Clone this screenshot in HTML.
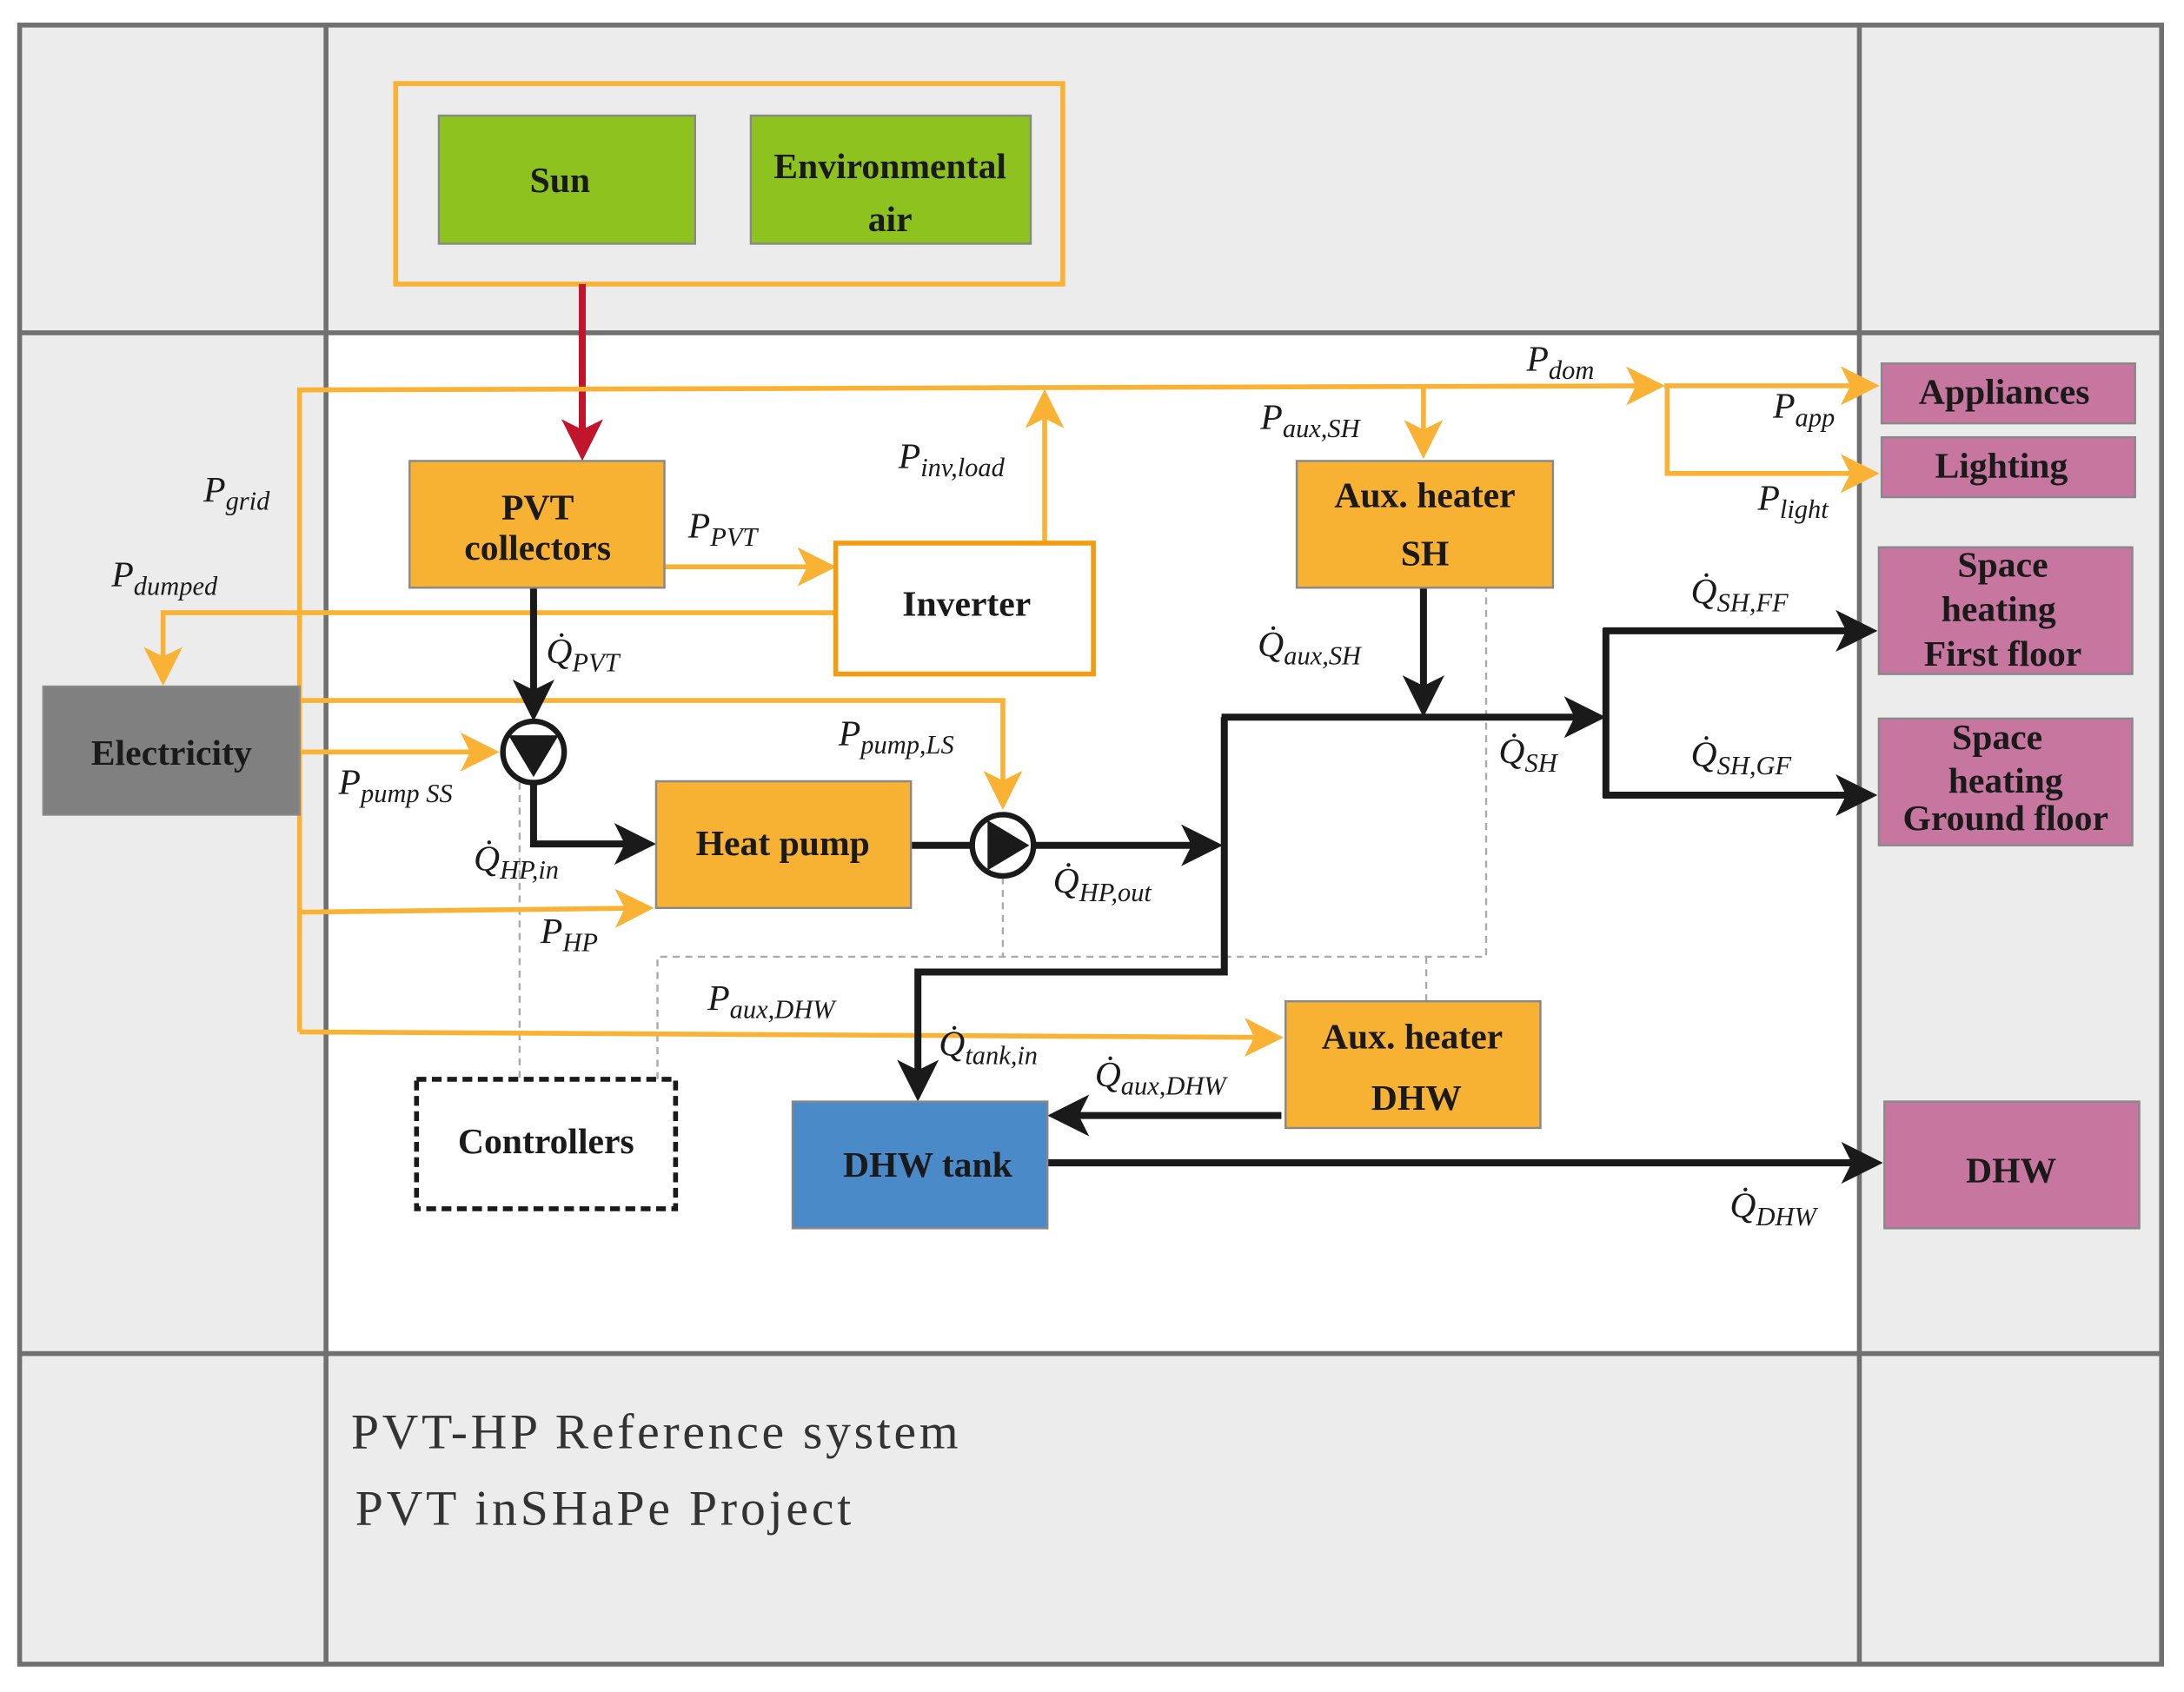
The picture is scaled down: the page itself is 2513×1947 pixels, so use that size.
<!DOCTYPE html>
<html><head><meta charset="utf-8"><style>html,body{margin:0;padding:0;background:#fff}svg{display:block}svg text{font-family:"Liberation Serif","DejaVu Serif",serif}</style></head>
<body>
<svg width="2513" height="1947" viewBox="0 0 1568 1215" xmlns="http://www.w3.org/2000/svg">
<defs>
<marker id="ao" markerWidth="8" markerHeight="8" refX="7" refY="4" orient="auto" markerUnits="strokeWidth"><path d="M0,0 L8,4 L0,8 L2,4 z" fill="#f9b233"/></marker>
<marker id="ab" markerWidth="6" markerHeight="6" refX="5" refY="3" orient="auto" markerUnits="strokeWidth"><path d="M0,0 L6,3 L0,6 L1.5,3 z" fill="#1a1a1a"/></marker>
<marker id="ar" markerWidth="6" markerHeight="6" refX="5" refY="3" orient="auto" markerUnits="strokeWidth"><path d="M0,0 L6,3 L0,6 L1.5,3 z" fill="#c0152a"/></marker>
</defs>
<rect x="0" y="0" width="1568" height="1215" fill="#fff"/>
<rect x="14" y="18" width="1538" height="1177" fill="#ececec"/>
<rect x="234" y="239" width="1101" height="733" fill="#fff"/>
<g stroke="#707070" stroke-width="3.5" fill="none">
<rect x="14" y="18" width="1538" height="1177"/>
<line x1="234" y1="18" x2="234" y2="1195"/><line x1="1335" y1="18" x2="1335" y2="1195"/>
<line x1="14" y1="239" x2="1552" y2="239"/><line x1="14" y1="972" x2="1552" y2="972"/>
</g>
<g stroke="#aaa" stroke-width="1.5" stroke-dasharray="5,4" fill="none">
<line x1="373" y1="562" x2="373" y2="775"/><polyline points="472,775 472,687 1067,687 1067,422"/>
<line x1="720" y1="630" x2="720" y2="687"/><line x1="1024" y1="687" x2="1024" y2="719"/>
</g>
<rect x="284" y="60" width="479" height="144" fill="none" stroke="#f9b233" stroke-width="3.5"/>
<rect x="315" y="83" width="184" height="92" fill="#8dc21f" stroke="#888" stroke-width="1.5"/>
<rect x="539" y="83" width="201" height="92" fill="#8dc21f" stroke="#888" stroke-width="1.5"/>
<line x1="418" y1="204" x2="418" y2="326" stroke="#c0152a" stroke-width="5" marker-end="url(#ar)"/>
<g stroke="#f9b233" stroke-width="3.5" fill="none">
<polyline points="215,741 215,280 1192,277" marker-end="url(#ao)"/>
<line x1="1195" y1="277" x2="1346" y2="277" marker-end="url(#ao)"/>
<polyline points="1197,277 1197,340 1346,340" marker-end="url(#ao)"/>
<line x1="750" y1="390" x2="750" y2="283" marker-end="url(#ao)"/>
<line x1="1022" y1="279" x2="1022" y2="326" marker-end="url(#ao)"/>
<line x1="477" y1="407" x2="597" y2="407" marker-end="url(#ao)"/>
<polyline points="600,440 117,440 117,489" marker-end="url(#ao)"/>
<line x1="215" y1="540" x2="355" y2="540" marker-end="url(#ao)"/>
<polyline points="215,503 720,503 720,578" marker-end="url(#ao)"/>
<line x1="215" y1="655" x2="466" y2="652" marker-end="url(#ao)"/>
<line x1="215" y1="741" x2="918" y2="745" marker-end="url(#ao)"/>
</g>
<g stroke="#1a1a1a" stroke-width="5" fill="none">
<line x1="383" y1="422" x2="383" y2="513" marker-end="url(#ab)"/>
<polyline points="383,562 383,606 466,606" marker-end="url(#ab)"/>
<line x1="654" y1="607" x2="698" y2="607"/>
<line x1="742" y1="607" x2="873" y2="607" marker-end="url(#ab)"/>
<polyline points="879,515 879,698 659,698 659,786" marker-end="url(#ab)"/>
<line x1="877" y1="515" x2="1148" y2="515" marker-end="url(#ab)"/>
<line x1="1022" y1="422" x2="1022" y2="510" marker-end="url(#ab)"/>
<line x1="1153" y1="451" x2="1153" y2="573"/>
<line x1="1151" y1="453" x2="1343" y2="453" marker-end="url(#ab)"/>
<line x1="1151" y1="571" x2="1343" y2="571" marker-end="url(#ab)"/>
<line x1="920" y1="801" x2="757" y2="801" marker-end="url(#ab)"/>
<line x1="752" y1="835" x2="1347" y2="835" marker-end="url(#ab)"/>
</g>
<circle cx="383" cy="540" r="22" fill="#fff" stroke="#1a1a1a" stroke-width="4"/>
<path d="M365,528 L401,528 L383,558 z" fill="#1a1a1a"/>
<circle cx="720" cy="607" r="22" fill="#fff" stroke="#1a1a1a" stroke-width="4"/>
<path d="M709,589 L739,607 L709,625 z" fill="#1a1a1a"/>
<g stroke="#888" stroke-width="1.5">
<rect x="294" y="331" width="183" height="91" fill="#f7b234"/>
<rect x="931" y="331" width="184" height="91" fill="#f7b234"/>
<rect x="471" y="561" width="183" height="91" fill="#f7b234"/>
<rect x="923" y="719" width="183" height="91" fill="#f7b234"/>
<rect x="569" y="791" width="183" height="91" fill="#4a8ac9"/>
<rect x="31" y="493" width="184" height="92" fill="#808080"/>
<rect x="1351" y="261" width="182" height="43" fill="#c7779f"/>
<rect x="1351" y="314" width="182" height="43" fill="#c7779f"/>
<rect x="1349" y="393" width="182" height="91" fill="#c7779f"/>
<rect x="1349" y="516" width="182" height="91" fill="#c7779f"/>
<rect x="1353" y="791" width="183" height="91" fill="#c7779f"/>
</g>
<rect x="600" y="390" width="185" height="94" fill="#fff" stroke="#f39c12" stroke-width="3.5"/>
<rect x="299" y="775" width="186" height="93" fill="#fff" stroke="#1a1a1a" stroke-width="3.5" stroke-dasharray="7,4"/>
<g font-weight="bold" font-size="26" fill="#1a1a1a" text-anchor="middle">
<text x="402" y="138">Sun</text>
<text x="639" y="128">Environmental</text><text x="639" y="166">air</text>
<text x="386" y="373">PVT</text><text x="386" y="402">collectors</text>
<text x="694" y="442">Inverter</text>
<text x="1023" y="364">Aux.  heater</text><text x="1023" y="406">SH</text>
<text x="562" y="614">Heat pump</text>
<text x="1014" y="753">Aux.  heater</text><text x="1017" y="797">DHW</text>
<text x="666" y="845">DHW tank</text>
<text x="392" y="828">Controllers</text>
<text x="123" y="549">Electricity</text>
<text x="1439" y="290">Appliances</text>
<text x="1437" y="343">Lighting</text>
<text x="1438" y="414">Space</text><text x="1435" y="446">heating</text><text x="1438" y="478">First floor</text>
<text x="1434" y="538">Space</text><text x="1440" y="569">heating</text><text x="1440" y="596">Ground floor</text>
<text x="1444" y="849">DHW</text>
</g>
<g font-style="italic" font-size="26" fill="#1a1a1a">
<text x="1096" y="266">P<tspan font-size="19" dy="6">dom</tspan></text>
<text x="905" y="308">P<tspan font-size="19" dy="6">aux,SH</tspan></text>
<text x="1273" y="300">P<tspan font-size="19" dy="6">app</tspan></text>
<text x="1262" y="366">P<tspan font-size="19" dy="6">light</tspan></text>
<text x="645" y="336">P<tspan font-size="19" dy="6">inv,load</tspan></text>
<text x="146" y="360">P<tspan font-size="19" dy="6">grid</tspan></text>
<text x="80" y="421">P<tspan font-size="19" dy="6">dumped</tspan></text>
<text x="494" y="386">P<tspan font-size="19" dy="6">PVT</tspan></text>
<text x="392" y="476">Q̇<tspan font-size="19" dy="6">PVT</tspan></text>
<text x="903" y="471">Q̇<tspan font-size="19" dy="6">aux,SH</tspan></text>
<text x="1214" y="433">Q̇<tspan font-size="19" dy="6">SH,FF</tspan></text>
<text x="1076" y="548">Q̇<tspan font-size="19" dy="6">SH</tspan></text>
<text x="1214" y="550">Q̇<tspan font-size="19" dy="6">SH,GF</tspan></text>
<text x="602" y="535">P<tspan font-size="19" dy="6">pump,LS</tspan></text>
<text x="243" y="570">P<tspan font-size="19" dy="6">pump SS</tspan></text>
<text x="340" y="625">Q̇<tspan font-size="19" dy="6">HP,in</tspan></text>
<text x="756" y="641">Q̇<tspan font-size="19" dy="6">HP,out</tspan></text>
<text x="388" y="677">P<tspan font-size="19" dy="6">HP</tspan></text>
<text x="508" y="725">P<tspan font-size="19" dy="6">aux,DHW</tspan></text>
<text x="674" y="758">Q̇<tspan font-size="19" dy="6">tank,in</tspan></text>
<text x="786" y="780">Q̇<tspan font-size="19" dy="6">aux,DHW</tspan></text>
<text x="1242" y="874">Q̇<tspan font-size="19" dy="6">DHW</tspan></text>
</g>
<g font-size="36" fill="#333">
<text x="252" y="1040" textLength="436" lengthAdjust="spacing">PVT-HP Reference system</text>
<text x="255" y="1095" textLength="356" lengthAdjust="spacing">PVT inSHaPe Project</text>
</g>
</svg>
</body></html>
